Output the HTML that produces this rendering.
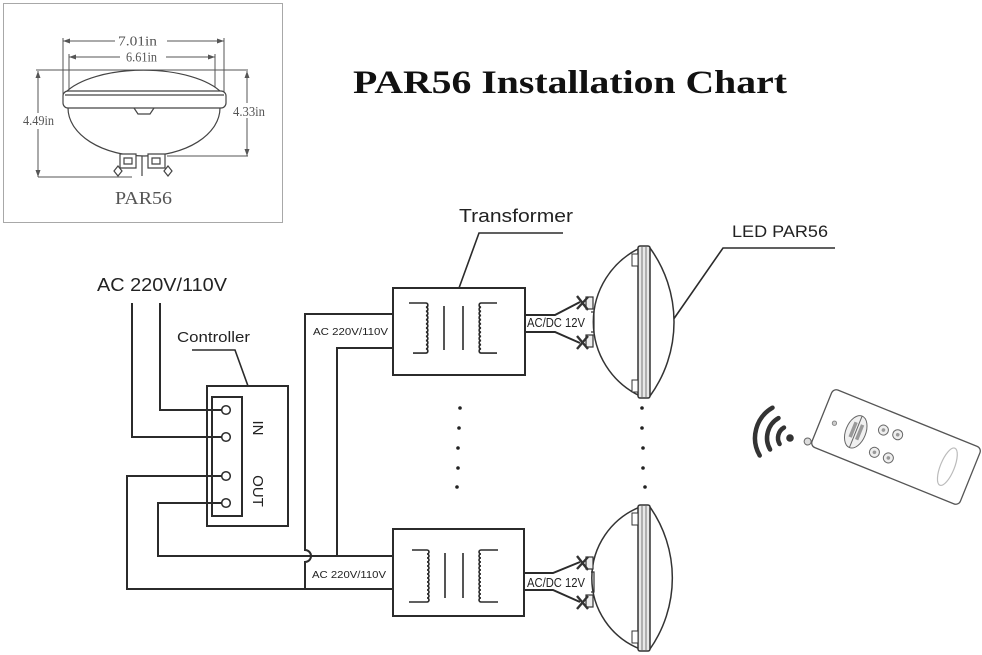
<!DOCTYPE html>
<html><head><meta charset="utf-8"><style>
html,body{margin:0;padding:0;background:#fff;}
svg{display:block;}
</style></head><body>
<svg width="982" height="655" viewBox="0 0 982 655" xmlns="http://www.w3.org/2000/svg">
<rect width="982" height="655" fill="#fff"/>

<!-- Top-left reference box -->
<rect x="3.5" y="3.5" width="279" height="219" fill="#fff" stroke="#a8a8a8" stroke-width="1"/>
<g stroke="#555" stroke-width="1" fill="none">
  <path d="M63 38V100 M224 38V95 M69 54V92 M215 54V92"/>
  <path d="M36 70H248 M38 177H132 M167 156H248"/>
  <path d="M63 41H115 M167 41H224"/>
  <path d="M69 57H120 M166 57H215"/>
  <path d="M38 71V113 M38 129V177"/>
  <path d="M247 71V103 M247 118V156"/>
</g>
<g fill="#555">
  <path d="M63 41l7-2.5v5z M224 41l-7-2.5v5z"/>
  <path d="M69 57l7-2.5v5z M215 57l-7-2.5v5z"/>
  <path d="M38 71l-2.5 7h5z M38 177l-2.5-7h5z"/>
  <path d="M247 71l-2.5 7h5z M247 156l-2.5-7h5z"/>
</g>
<g font-family="Liberation Serif, serif" font-size="13.5" fill="#555">
  <text x="118" y="45.5" textLength="39" lengthAdjust="spacingAndGlyphs">7.01in</text>
  <text x="126" y="61.5" textLength="31" lengthAdjust="spacingAndGlyphs">6.61in</text>
  <text x="23" y="125" textLength="31" lengthAdjust="spacingAndGlyphs">4.49in</text>
  <text x="233" y="116" textLength="32" lengthAdjust="spacingAndGlyphs">4.33in</text>
</g>
<!-- small bulb -->
<g stroke="#444" stroke-width="1.2" fill="#fff">
  <path d="M65 93 A85 37 0 0 1 222 93"/>
  <path d="M68 108 A76 48 0 0 0 220 108"/>
  <rect x="63" y="91" width="163" height="17" rx="5"/>
  <path d="M65 95H224" fill="none"/>
  <path d="M134 108 L138 114 L150 114 L154 108" fill="none"/>
  <path d="M120 154 h16 v14 h-16z M148 154 h17 v14 h-17z"/>
  <path d="M142 156 v20" fill="none"/>
  <path d="M118 166 l4 5 l-4 5 l-4-5z M168 166 l4 5 l-4 5 l-4-5z"/>
  <path d="M124 158 h8 v6 h-8z M152 158 h8 v6 h-8z" fill="none"/>
</g>
<text x="115" y="204" font-family="Liberation Serif, serif" font-size="18" fill="#555" textLength="57" lengthAdjust="spacingAndGlyphs">PAR56</text>

<!-- Title -->
<text x="353" y="93" font-family="Liberation Serif, serif" font-weight="bold" font-size="33" fill="#111" textLength="434" lengthAdjust="spacingAndGlyphs">PAR56 Installation Chart</text>

<!-- Labels -->
<g font-family="Liberation Sans, sans-serif" fill="#222">
  <text x="97" y="291" font-size="18.5" textLength="130" lengthAdjust="spacingAndGlyphs">AC 220V/110V</text>
  <text x="177" y="342" font-size="15" textLength="73" lengthAdjust="spacingAndGlyphs">Controller</text>
  <text x="459" y="222" font-size="18" textLength="114" lengthAdjust="spacingAndGlyphs">Transformer</text>
  <text x="732" y="237" font-size="17" textLength="96" lengthAdjust="spacingAndGlyphs">LED PAR56</text>
  <text x="313" y="335" font-size="10.5" textLength="75" lengthAdjust="spacingAndGlyphs">AC 220V/110V</text>
  <text x="312" y="578" font-size="10.5" textLength="74" lengthAdjust="spacingAndGlyphs">AC 220V/110V</text>
  <text x="527" y="327" font-size="12.5" textLength="58" lengthAdjust="spacingAndGlyphs">AC/DC 12V</text>
  <text x="527" y="587" font-size="12.5" textLength="58" lengthAdjust="spacingAndGlyphs">AC/DC 12V</text>
  <text x="0" y="0" font-size="15" text-anchor="middle" transform="translate(253 428) rotate(90)">IN</text>
  <text x="0" y="0" font-size="15" text-anchor="middle" transform="translate(253 491) rotate(90)">OUT</text>
</g>

<!-- Wires -->
<g stroke="#2b2b2b" stroke-width="2" fill="none" stroke-linejoin="miter">
  <path d="M132 303V437H222"/>
  <path d="M160 303V410H222"/>
  <path d="M222 476H127V589H393"/>
  <path d="M222 503H158V556H393"/>
  <path d="M393 314H305V550a6 6 0 0 1 0 12V589"/>
  <path d="M393 348H337V556"/>
  <path d="M192 350H235L248 386" stroke-width="1.6"/>
  <path d="M563 233H479L459 288" stroke-width="1.6"/>
  <path d="M835 248H723L673 320" stroke-width="1.6"/>
  <rect x="207" y="386" width="81" height="140"/>
  <rect x="212" y="397" width="30" height="119"/>
  <rect x="393" y="288" width="132" height="87"/>
  <rect x="393" y="529" width="131" height="87"/>
  <path d="M525 315H555L580 302"/>
  <path d="M525 332H555L580 343"/>
  <path d="M524 573H553L580 562"/>
  <path d="M524 590H553L580 602"/>
</g>
<g stroke="#2b2b2b" stroke-width="1.5" fill="#fff">
  <circle cx="226" cy="410" r="4.3"/>
  <circle cx="226" cy="437" r="4.3"/>
  <circle cx="226" cy="476" r="4.3"/>
  <circle cx="226" cy="503" r="4.3"/>
</g>

<!-- transformer symbols -->
<g stroke="#2b2b2b" stroke-width="1.6" fill="none">
  <path d="M409 303H426a2.1 2.1 0 0 1 0 4.17a2.1 2.1 0 0 1 0 4.17a2.1 2.1 0 0 1 0 4.17a2.1 2.1 0 0 1 0 4.17a2.1 2.1 0 0 1 0 4.17a2.1 2.1 0 0 1 0 4.17a2.1 2.1 0 0 1 0 4.17a2.1 2.1 0 0 1 0 4.17a2.1 2.1 0 0 1 0 4.17a2.1 2.1 0 0 1 0 4.17a2.1 2.1 0 0 1 0 4.17a2.1 2.1 0 0 1 0 4.17H413"/>
  <path d="M497 303H481a2.1 2.1 0 0 0 0 4.17a2.1 2.1 0 0 0 0 4.17a2.1 2.1 0 0 0 0 4.17a2.1 2.1 0 0 0 0 4.17a2.1 2.1 0 0 0 0 4.17a2.1 2.1 0 0 0 0 4.17a2.1 2.1 0 0 0 0 4.17a2.1 2.1 0 0 0 0 4.17a2.1 2.1 0 0 0 0 4.17a2.1 2.1 0 0 0 0 4.17a2.1 2.1 0 0 0 0 4.17a2.1 2.1 0 0 0 0 4.17H497"/>
  <path d="M444 306V350M463 306V350"/>
  <path d="M412 550H427a2 2 0 0 1 0 4a2 2 0 0 1 0 4a2 2 0 0 1 0 4a2 2 0 0 1 0 4a2 2 0 0 1 0 4a2 2 0 0 1 0 4a2 2 0 0 1 0 4a2 2 0 0 1 0 4a2 2 0 0 1 0 4a2 2 0 0 1 0 4a2 2 0 0 1 0 4a2 2 0 0 1 0 4a2 2 0 0 1 0 4H409"/>
  <path d="M498 550H481a2 2 0 0 0 0 4a2 2 0 0 0 0 4a2 2 0 0 0 0 4a2 2 0 0 0 0 4a2 2 0 0 0 0 4a2 2 0 0 0 0 4a2 2 0 0 0 0 4a2 2 0 0 0 0 4a2 2 0 0 0 0 4a2 2 0 0 0 0 4a2 2 0 0 0 0 4a2 2 0 0 0 0 4a2 2 0 0 0 0 4H498"/>
  <path d="M445 553V598M463 553V598"/>
</g>

<!-- Bulb 1 -->
<g stroke="#333" stroke-width="1.5">
  <path d="M640 248A82 82 0 0 0 640 396" fill="#fff"/>
  <path d="M650 248A126 126 0 0 1 650 396" fill="#fff"/>
  <rect x="638" y="246" width="12" height="152" rx="2" fill="#e8e8e8"/>
  <path d="M642 247V397M646 247V397" stroke="#777" stroke-width="1" fill="none"/>
  <path d="M632 254h6v12h-6z M632 380h6v12h-6z" fill="#fff" stroke-width="1"/>
  <rect x="586" y="297" width="7" height="12" fill="#eee" stroke-width="1.2"/>
  <rect x="586" y="335" width="7" height="12" fill="#eee" stroke-width="1.2"/>
  <path d="M591 312h3v20h-3" fill="none" stroke-width="1.2"/>
  <path d="M577 296L588 310M577 309L588 297M577 336L588 349M577 349L588 336" stroke-width="2.4" fill="none"/>
</g>
<!-- Bulb 2 -->
<g stroke="#333" stroke-width="1.5">
  <path d="M640 507A76.4 76.4 0 0 0 640 649" fill="#fff"/>
  <path d="M650 507A124 124 0 0 1 650 649" fill="#fff"/>
  <rect x="638" y="505" width="12" height="146" rx="2" fill="#e8e8e8"/>
  <path d="M642 506V650M646 506V650" stroke="#777" stroke-width="1" fill="none"/>
  <path d="M632 513h6v12h-6z M632 631h6v12h-6z" fill="#fff" stroke-width="1"/>
  <rect x="586" y="557" width="7" height="12" fill="#eee" stroke-width="1.2"/>
  <rect x="586" y="595" width="7" height="12" fill="#eee" stroke-width="1.2"/>
  <path d="M591 572h3v20h-3" fill="none" stroke-width="1.2"/>
  <path d="M577 556L588 570M577 569L588 557M577 596L588 609M577 609L588 596" stroke-width="2.4" fill="none"/>
</g>

<!-- dots -->
<g fill="#222">
  <circle cx="460" cy="408" r="1.8"/><circle cx="459" cy="428" r="1.8"/><circle cx="458" cy="448" r="1.8"/><circle cx="458" cy="468" r="1.8"/><circle cx="457" cy="487" r="1.8"/>
  <circle cx="642" cy="408" r="1.8"/><circle cx="642" cy="428" r="1.8"/><circle cx="643" cy="448" r="1.8"/><circle cx="643" cy="468" r="1.8"/><circle cx="645" cy="487" r="1.8"/>
</g>

<!-- wifi -->
<g stroke="#333" stroke-width="4.5" fill="none" stroke-linecap="round">
  <path d="M779.6 444A12 12 0 0 1 784 427.6"/>
  <path d="M770.1 449.5A23 23 0 0 1 778.5 418.1"/>
  <path d="M759.7 455.5A35 35 0 0 1 772.5 407.7"/>
</g>
<circle cx="790" cy="438" r="3.8" fill="#333"/>

<!-- remote -->
<g transform="translate(896 447) rotate(22)">
  <rect x="-80" y="-31" width="160" height="62" rx="5" fill="#fff" stroke="#555" stroke-width="1.3"/>
  <circle cx="-84" cy="28" r="3.5" fill="#ddd" stroke="#666" stroke-width="1"/>
  <circle cx="-66" cy="1" r="2.2" fill="#ccc" stroke="#777" stroke-width="0.8"/>
  <ellipse cx="-43" cy="1" rx="10" ry="17" fill="#f0f0f0" stroke="#666" stroke-width="1"/>
  <path d="M-43 -16V18" stroke="#666" stroke-width="1"/>
  <rect x="-48" y="-8" width="3.5" height="16" fill="#999"/>
  <rect x="-41" y="-8" width="3.5" height="16" fill="#999"/>
  <g fill="#eee" stroke="#666" stroke-width="1">
    <circle cx="-18" cy="-11" r="5"/><circle cx="-3" cy="-12" r="5"/>
    <circle cx="-18" cy="13" r="5"/><circle cx="-3" cy="13" r="5"/>
  </g>
  <g fill="#999">
    <circle cx="-18" cy="-11" r="1.8"/><circle cx="-3" cy="-12" r="1.8"/>
    <circle cx="-18" cy="13" r="1.8"/><circle cx="-3" cy="13" r="1.8"/>
  </g>
  <ellipse cx="55" cy="-1" rx="7" ry="20" fill="none" stroke="#bbb" stroke-width="1.2"/>
</g>
</svg>
</body></html>
